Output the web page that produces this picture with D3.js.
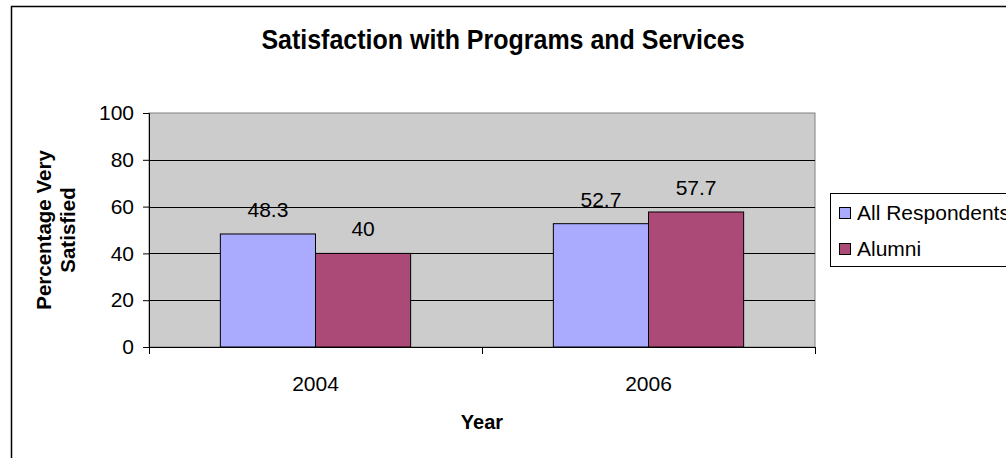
<!DOCTYPE html>
<html><head><meta charset="utf-8">
<script src="https://cdn.jsdelivr.net/npm/d3@7"></script>
<style>body{margin:0;background:#fff}svg{display:block}text{font-family:"Liberation Sans",Arial,sans-serif}</style>
</head><body>
<svg id="c" width="1006" height="458"></svg>
<script>
const categories = ["2004", "2006"];
const seriesNames = ["All Respondents", "Alumni"];
const allRespondents = [48.3, 52.7];
const alumni = [40, 57.7];
const yTicks = [0, 20, 40, 60, 80, 100];
const colors = ["#AAAAFF", "#AB4A77"];

const svg = d3.select("#c");
// outer chart border
svg.append("rect").attr("x", 11.5).attr("y", 6.5).attr("width", 1100).attr("height", 600)
  .attr("fill", "#fff").attr("stroke", "#000").attr("stroke-width", 1.5);

const L = 149, R = 815, T = 113, B = 347;
const x = d3.scaleBand().domain(categories).range([L, R]);
const y = d3.scaleLinear().domain([0, 100]).range([B, T]);
const xs = d3.scaleBand().domain(seriesNames).range([0, x.bandwidth()]).paddingInner(0).paddingOuter(0.75);

svg.append("rect").attr("x", L).attr("y", T).attr("width", R - L).attr("height", B - T)
  .attr("fill", "#CCCCCC").attr("stroke", "#808080").attr("stroke-width", 1);

// gridlines
svg.append("g").selectAll("line").data(yTicks.filter(d => d > 0 && d < 100)).join("line")
  .attr("x1", L).attr("x2", R).attr("y1", d => Math.round(y(d)) + 0.5).attr("y2", d => Math.round(y(d)) + 0.5)
  .attr("stroke", "#000").attr("stroke-width", 1);

const series = [allRespondents, alumni];
series.forEach((vals, si) => {
  svg.append("g").selectAll("rect").data(vals).join("rect")
    .attr("x", (d, i) => x(categories[i]) + xs(seriesNames[si]))
    .attr("width", xs.bandwidth())
    .attr("y", d => y(d))
    .attr("height", d => B - y(d))
    .attr("fill", colors[si]).attr("stroke", "#000").attr("stroke-width", 1);
  svg.append("g").selectAll("text").data(vals).join("text")
    .attr("x", (d, i) => x(categories[i]) + xs(seriesNames[si]) + xs.bandwidth() / 2)
    .attr("y", d => y(d) - 17)
    .attr("text-anchor", "middle").attr("font-size", 21).attr("fill", "#000")
    .text(d => d);
});

// y axis
const yAxis = d3.axisLeft(y).tickValues(yTicks).tickSize(6).tickPadding(9);
const gy = svg.append("g").attr("transform", `translate(${L},0)`).call(yAxis);
gy.select(".domain").attr("stroke", "#000");
gy.selectAll("line").attr("stroke", "#000");
gy.selectAll("text").attr("font-size", 21).attr("font-family", "Liberation Sans, Arial, sans-serif").attr("fill", "#000");

// x axis
const gx = svg.append("g").attr("transform", `translate(0,${B})`);
gx.append("line").attr("x1", L).attr("x2", R).attr("y1", 0.5).attr("y2", 0.5).attr("stroke", "#000");
const bounds = [L, ...categories.map(c => x(c) + x.bandwidth())];
gx.selectAll(".tk").data(bounds).join("line").attr("class", "tk")
  .attr("x1", d => Math.round(d) + 0.5).attr("x2", d => Math.round(d) + 0.5).attr("y1", 0).attr("y2", 7).attr("stroke", "#000");
gx.selectAll(".lb").data(categories).join("text").attr("class", "lb")
  .attr("x", d => x(d) + x.bandwidth() / 2).attr("y", 44)
  .attr("text-anchor", "middle").attr("font-size", 21).attr("fill", "#000").text(d => d);

// titles
svg.append("text").attr("transform", "translate(503,49) scale(1,1.1)").attr("text-anchor", "middle")
  .attr("font-size", 25).attr("font-weight", "bold").text("Satisfaction with Programs and Services");
svg.append("text").attr("x", (L + R) / 2).attr("y", 429).attr("text-anchor", "middle")
  .attr("font-size", 20).attr("font-weight", "bold").text("Year");
const yt = svg.append("text").attr("transform", `translate(51,${(T + B) / 2}) rotate(-90)`)
  .attr("text-anchor", "middle").attr("font-size", 20.5).attr("font-weight", "bold");
yt.append("tspan").attr("x", 0).attr("y", 0).text("Percentage Very");
yt.append("tspan").attr("x", 0).attr("y", 24).text("Satisfied");

// legend
const lg = svg.append("g").attr("transform", "translate(830,193)");
lg.append("rect").attr("x", 0.5).attr("y", 0.5).attr("width", 300).attr("height", 73)
  .attr("fill", "#fff").attr("stroke", "#000");
seriesNames.forEach((n, i) => {
  lg.append("rect").attr("x", 9.5).attr("y", 14.5 + i * 36).attr("width", 11).attr("height", 11)
    .attr("fill", colors[i]).attr("stroke", "#000");
  lg.append("text").attr("x", 27).attr("y", 27 + i * 36).attr("font-size", 21).text(n);
});
</script>
</body></html>
